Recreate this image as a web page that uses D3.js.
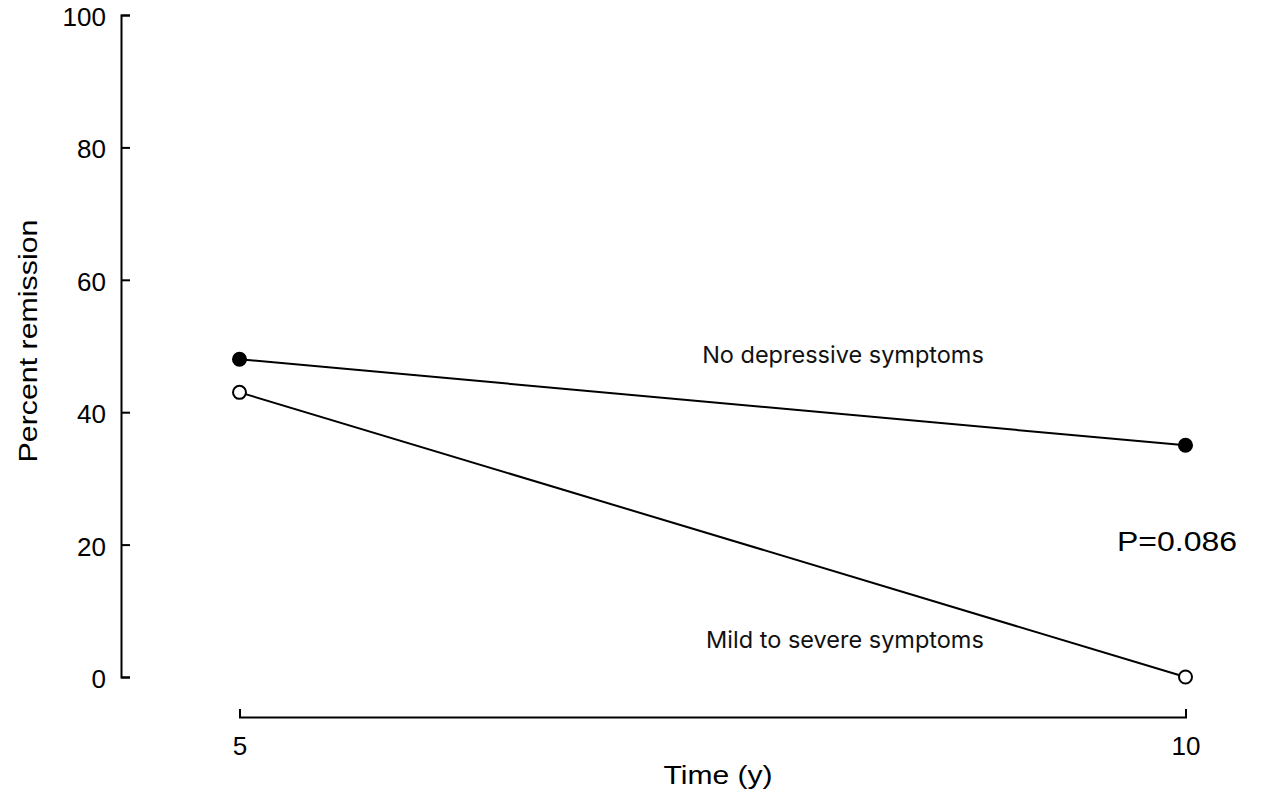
<!DOCTYPE html>
<html>
<head>
<meta charset="utf-8">
<script src="https://cdn.jsdelivr.net/npm/d3@7"></script>
<style>
  html, body { margin: 0; padding: 0; background: #fff; }
  svg { display: block; }
</style>
</head>
<body>
<svg id="chart" width="1268" height="797"></svg>
<script>
const times = [5, 10];
const noDepressive = [48, 35];
const mildSevere = [43, 0];
const yTicks = [0, 20, 40, 60, 80, 100];
const xTicks = [5, 10];
const seriesLabels = ["No depressive symptoms", "Mild to severe symptoms"];
const pLabel = "P=0.086";
const xTitle = "Time (y)";
const yTitle = "Percent remission";

const svg = d3.select("#chart");
const axisFont = "'Liberation Sans', Arial, Helvetica, sans-serif";
const labelFont = "Inter, 'Open Sans', sans-serif";

const x = d3.scaleLinear().domain([5, 10]).range([239.5, 1185.5]);
const y = d3.scaleLinear().domain([0, 100]).range([677, 15]);

// Y axis
const yAxisG = svg.append("g").attr("transform", "translate(121,0)")
  .call(d3.axisLeft(y).tickValues(yTicks).tickFormat(d3.format("d"))
    .tickSizeInner(-9).tickSizeOuter(-9).tickPadding(15));
yAxisG.selectAll("path, line").attr("stroke", "#000").attr("stroke-width", 2);
yAxisG.selectAll("text").attr("font-family", axisFont).attr("font-size", 26)
  .attr("fill", "#000").attr("dy", "0.4em");

// X axis
const xAxisG = svg.append("g").attr("transform", "translate(0,717)")
  .call(d3.axisBottom(x).tickValues(xTicks).tickFormat(d3.format("d"))
    .tickSizeInner(-8).tickSizeOuter(-8).tickPadding(20));
xAxisG.selectAll("path, line").attr("stroke", "#000").attr("stroke-width", 2);
xAxisG.selectAll("text").attr("font-family", axisFont).attr("font-size", 26).attr("fill", "#000");

// Titles
svg.append("text").attr("x", 718).attr("y", 784).attr("text-anchor", "middle")
  .attr("font-family", axisFont).attr("font-size", 26.5).attr("fill", "#000")
  .attr("textLength", 109).attr("lengthAdjust", "spacingAndGlyphs").text(xTitle);
svg.append("text").attr("transform", "translate(37,341) rotate(-90)").attr("text-anchor", "middle")
  .attr("font-family", axisFont).attr("font-size", 26.5).attr("fill", "#000")
  .attr("textLength", 243).attr("lengthAdjust", "spacingAndGlyphs").text(yTitle);

const line = d3.line().x((d, i) => x(times[i])).y(d => y(d));

// Lines
svg.append("path").datum(noDepressive).attr("d", line)
  .attr("fill", "none").attr("stroke", "#000").attr("stroke-width", 2);
svg.append("path").datum(mildSevere).attr("d", line)
  .attr("fill", "none").attr("stroke", "#000").attr("stroke-width", 2);

// Points
svg.selectAll("circle.nd").data(noDepressive).join("circle").attr("class", "nd")
  .attr("cx", (d, i) => x(times[i])).attr("cy", d => y(d)).attr("r", 7.5)
  .attr("fill", "#000");
svg.selectAll("circle.ms").data(mildSevere).join("circle").attr("class", "ms")
  .attr("cx", (d, i) => x(times[i])).attr("cy", d => y(d)).attr("r", 6.5)
  .attr("fill", "#fff").attr("stroke", "#000").attr("stroke-width", 2);

// Series labels
svg.append("text").attr("x", 843).attr("y", 363).attr("text-anchor", "middle")
  .attr("font-family", labelFont).attr("font-size", 23.5).attr("fill", "#111").text(seriesLabels[0]);
svg.append("text").attr("x", 845).attr("y", 648).attr("text-anchor", "middle")
  .attr("font-family", labelFont).attr("font-size", 23.5).attr("fill", "#111").text(seriesLabels[1]);

// P value
svg.append("text").attr("x", 1177).attr("y", 551).attr("text-anchor", "middle")
  .attr("font-family", axisFont).attr("font-size", 27).attr("fill", "#000")
  .attr("textLength", 120).attr("lengthAdjust", "spacingAndGlyphs").text(pLabel);
</script>
</body>
</html>
